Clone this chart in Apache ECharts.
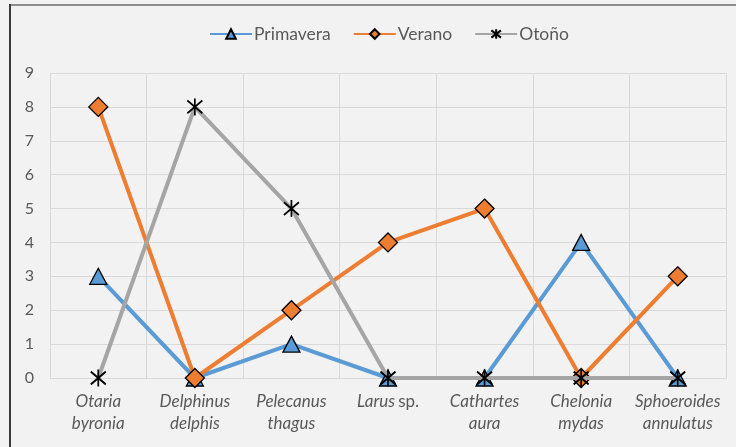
<!DOCTYPE html>
<html>
<head>
<meta charset="utf-8">
<script src="https://cdn.jsdelivr.net/npm/echarts@6/dist/echarts.min.js"></script>
<style>
  html, body { margin: 0; padding: 0; background: #f2f2f2; }
  #chart { width: 736px; height: 447px; }
</style>
</head>
<body>
<div id="chart"></div>
<script>
// Species observed along the coast, counts by season
const species = ['Otaria byronia', 'Delphinus delphis', 'Pelecanus thagus', 'Larus sp.', 'Cathartes aura', 'Chelonia mydas', 'Sphoeroides annulatus'];
// Axis label text: two-line italic names; "sp." stays upright
const speciesLabels = [
  '{i|Otaria}\n{i|byronia}',
  '{i|Delphinus}\n{i|delphis}',
  '{i|Pelecanus}\n{i|thagus}',
  '{i|Larus} {n|sp.}',
  '{i|Cathartes}\n{i|aura}',
  '{i|Chelonia}\n{i|mydas}',
  '{i|Sphoeroides}\n{i|annulatus}'
];
const primavera = [3, 0, 1, 0, 0, 4, 0];
const verano = [8, 0, 2, 4, 5, 0, 3];
const otono = [0, 8, 5, 0, 0, 0, 0];
const yTicks = [0, 1, 2, 3, 4, 5, 6, 7, 8, 9];

const FONT = 'Lato, "Open Sans", sans-serif';
const TEXT = '#595959';
const starPath = 'path://M0,2 L12,14 M12,2 L0,14 M6,0 L6,16';

const chart = echarts.init(document.getElementById('chart'), null, { renderer: 'canvas' });
chart.setOption({
  backgroundColor: '#f2f2f2',
  animation: false,
  textStyle: { fontFamily: FONT },
  graphic: [
    { type: 'rect', shape: { x: 9, y: 4, width: 727, height: 2 }, style: { fill: '#8c8c8c' }, silent: true },
    { type: 'rect', shape: { x: 9, y: 4, width: 2, height: 443 }, style: { fill: '#3a3a3a' }, silent: true }
  ],
  legend: {
    top: 20,
    left: 204,
    itemWidth: 42,
    itemHeight: 12,
    itemGap: 22,
    textStyle: { color: TEXT, fontSize: 17.5, fontFamily: FONT, padding: [0, 0, 0, -3] },
    data: ['Primavera', 'Verano', 'Otoño']
  },
  grid: { left: 50, right: 10, top: 73, bottom: 69, containLabel: false },
  xAxis: {
    type: 'category',
    data: species,
    boundaryGap: true,
    axisLine: { show: true, lineStyle: { color: '#d9d9d9', width: 1 } },
    axisTick: { show: false },
    splitLine: { show: true, lineStyle: { color: '#d9d9d9', width: 1 } },
    axisLabel: {
      interval: 0,
      margin: 13,
      color: TEXT,
      formatter: (v, idx) => speciesLabels[idx],
      rich: {
        i: { fontStyle: 'italic', fontSize: 17, color: TEXT, lineHeight: 22, fontFamily: FONT },
        n: { fontStyle: 'normal', fontSize: 17, color: TEXT, lineHeight: 22, fontFamily: FONT }
      }
    }
  },
  yAxis: {
    type: 'value',
    min: 0,
    max: 9,
    interval: 1,
    axisLine: { show: false },
    axisTick: { show: false },
    splitLine: { lineStyle: { color: '#d9d9d9', width: 1 } },
    axisLabel: {
      color: TEXT,
      fontSize: 16,
      margin: 16,
      formatter: v => (yTicks.includes(v) ? String(v) : '')
    }
  },
  series: [
    {
      name: 'Primavera',
      type: 'line',
      data: primavera,
      symbol: 'triangle',
      symbolSize: [17, 16],
      lineStyle: { color: '#5b9bd5', width: 4 },
      itemStyle: { color: '#5b9bd5', borderColor: '#000', borderWidth: 1.3 },
      z: 2
    },
    {
      name: 'Verano',
      type: 'line',
      data: verano,
      symbol: 'diamond',
      symbolSize: [19, 19],
      lineStyle: { color: '#ed7d31', width: 4 },
      itemStyle: { color: '#ed7d31', borderColor: '#000', borderWidth: 1.3 },
      z: 3
    },
    {
      name: 'Otoño',
      type: 'line',
      data: otono,
      symbol: starPath,
      symbolSize: [15, 17],
      lineStyle: { color: '#a5a5a5', width: 4 },
      itemStyle: { color: 'rgba(0,0,0,0)', borderColor: '#000', borderWidth: 1.8 },
      z: 4
    }
  ]
});
</script>
</body>
</html>
